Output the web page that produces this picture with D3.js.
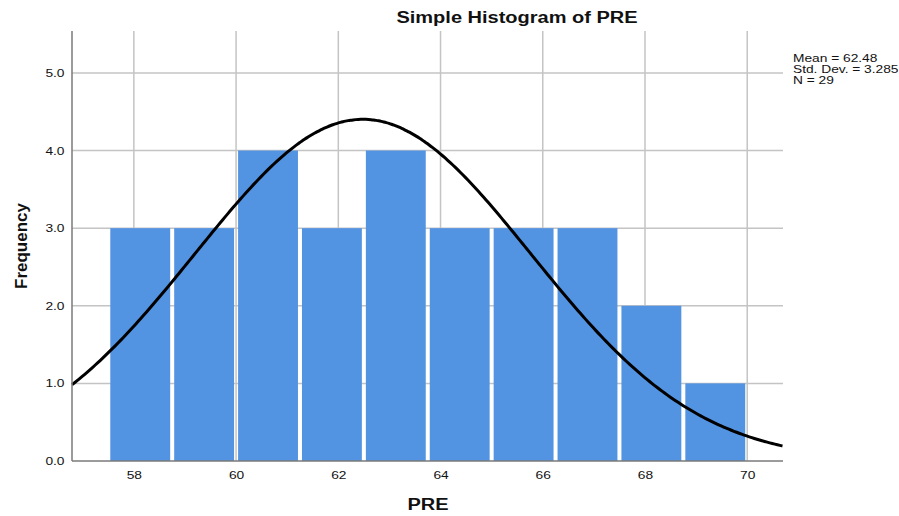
<!DOCTYPE html>
<meta charset="utf-8">
<style>
    body { margin: 0; background: #fff; }
    text { font-family: Arial, "Liberation Sans", sans-serif; fill: #111; }
    .grid line { stroke: #c4c4c4; stroke-width: 1.5px; }
    .axis path, .axis line { stroke: #7a7a7a; stroke-width: 1.5px; }
    .bar { fill: #5294e2; stroke: none; }
    .curve { fill: none; stroke: #000; stroke-width: 3px; }
</style>
<body>
<script src="https://cdn.jsdelivr.net/npm/d3@7"></script>
<script>
    // Histogram data (bin edges + counts)
    var binStart = 57.5;
    var binWidth = 1.25;
    var counts = [3, 3, 4, 3, 4, 3, 3, 3, 2, 1];
    var xTicks = [58, 60, 62, 64, 66, 68, 70];
    var yTicks = [0, 1, 2, 3, 4, 5];
    var stats = ["Mean = 62.48", "Std. Dev. = 3.285", "N = 29"];
    var mean = 62.48, sd = 3.285, n = 29;

    var width = 899, height = 516;
    var plot = { left: 72, right: 783, top: 31, bottom: 461 };
    var stretch = "scale(1.25,1)"; // source picture text is stretched sideways

    var svg = d3.select("body").append("svg")
        .attr("width", width)
        .attr("height", height);

    var x = d3.scaleLinear().domain([56.79, 70.7]).range([plot.left, plot.right]);
    var y = d3.scaleLinear().domain([0, 5.54]).range([plot.bottom, plot.top]);

    // gridlines
    var grid = svg.append("g").attr("class", "grid");
    grid.selectAll(".h").data(yTicks.slice(1)).enter().append("line")
        .attr("x1", plot.left).attr("x2", plot.right)
        .attr("y1", d => y(d)).attr("y2", d => y(d));
    grid.selectAll(".v").data(xTicks).enter().append("line")
        .attr("x1", d => x(d)).attr("x2", d => x(d))
        .attr("y1", plot.top).attr("y2", plot.bottom);

    // bars (2px white gap each side)
    var bins = counts.map((c, i) => ({ x0: binStart + i * binWidth, x1: binStart + (i + 1) * binWidth, n: c }));
    svg.append("g").selectAll("rect").data(bins).enter().append("rect")
        .attr("class", "bar")
        .attr("x", d => x(d.x0) + 2)
        .attr("width", d => x(d.x1) - x(d.x0) - 4)
        .attr("y", d => y(d.n))
        .attr("height", d => y(0) - y(d.n));

    // normal curve
    var scaleN = n * binWidth / (sd * Math.sqrt(2 * Math.PI));
    var curvePts = d3.range(x.domain()[0], x.domain()[1] + 0.001, 0.05)
        .map(v => [v, scaleN * Math.exp(-0.5 * Math.pow((v - mean) / sd, 2))]);
    svg.append("path")
        .attr("class", "curve")
        .attr("d", d3.line().x(d => x(d[0])).y(d => y(d[1])).curve(d3.curveBasis)(curvePts));

    // axes
    svg.append("g").attr("class", "axis")
        .attr("transform", "translate(0," + plot.bottom + ")")
        .call(d3.axisBottom(x).tickValues(xTicks).tickSize(0).tickPadding(10))
        .call(g => g.select(".domain").attr("d", "M" + plot.left + ",0H" + plot.right))
        .selectAll("text").style("font-size", "11px").attr("transform", stretch);
    svg.append("g").attr("class", "axis")
        .attr("transform", "translate(" + plot.left + ",0)")
        .call(d3.axisLeft(y).tickValues(yTicks).tickFormat(d3.format(".1f")).tickSize(0).tickPadding(6))
        .call(g => g.select(".domain").attr("d", "M0," + plot.top + "V" + plot.bottom))
        .selectAll("text").style("font-size", "11px").attr("transform", stretch);

    // title and labels
    svg.append("text")
        .attr("transform", "translate(517,23) " + stretch)
        .attr("text-anchor", "middle")
        .style("font-size", "16px").style("font-weight", "bold")
        .text("Simple Histogram of PRE");
    svg.append("text")
        .attr("transform", "translate(428,510) " + stretch)
        .attr("text-anchor", "middle")
        .style("font-size", "16px").style("font-weight", "bold")
        .text("PRE");
    svg.append("text")
        .attr("transform", "translate(27,246) rotate(-90)")
        .attr("text-anchor", "middle")
        .style("font-size", "17px").style("font-weight", "bold")
        .text("Frequency");

    svg.append("g").selectAll("text").data(stats).enter().append("text")
        .attr("transform", (d, i) => "translate(793," + (62 + i * 11) + ") " + stretch)
        .style("font-size", "11px")
        .text(d => d);
</script>
</body>
